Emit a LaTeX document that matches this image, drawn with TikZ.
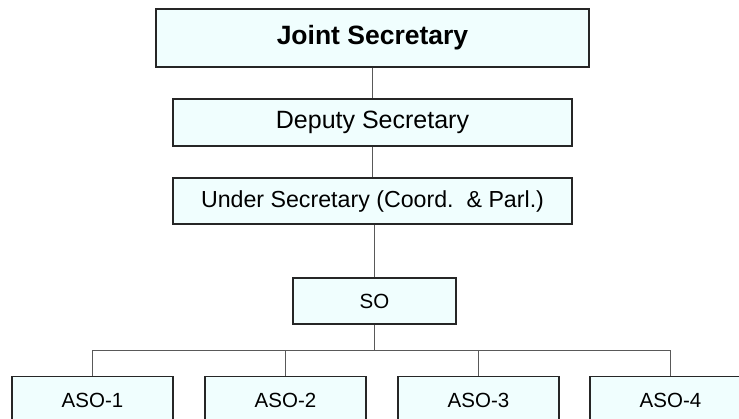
\documentclass[tikz,border=0pt]{standalone}
\usepackage{fontspec}
\setmainfont{Liberation Sans}
\definecolor{postfill}{RGB}{240,254,254}

\begin{document}
\begin{tikzpicture}[x=1pt,y=-1pt,
    post/.style={draw=black!85,line width=1.2pt,fill=postfill,inner sep=0pt,
      font=\fontsize{24}{28}\selectfont},
    small post/.style={post,minimum width=161pt,minimum height=47pt,
      font=\fontsize{20.5}{24}\selectfont},
    link/.style={draw=black!65,line width=1.1pt}]
  \useasboundingbox (0,0) rectangle (739,418);
  \clip (0,0) rectangle (739,418);

  \node[post,minimum width=433pt,minimum height=58pt,font=\fontsize{26.5}{30}\selectfont\bfseries] (js) at (372.5,38) {Joint Secretary};
  \node[post,minimum width=399pt,minimum height=47pt,font=\fontsize{25}{29}\selectfont] (ds) at (372.5,122.5) {Deputy Secretary};
  \node[post,minimum width=399pt,minimum height=46pt,font=\fontsize{23.2}{27}\selectfont] (us) at (372.5,201) {Under Secretary (Coord.\ \ \& Parl.)};
  \node[small post,minimum width=163pt,minimum height=46pt] (so) at (374.5,301) {SO};

  \node[small post] (aso1) at (92.5,400) {ASO-1};
  \node[small post] (aso2) at (285.5,400) {ASO-2};
  \node[small post] (aso3) at (478.5,400) {ASO-3};
  \node[small post] (aso4) at (670.5,400) {ASO-4};

  \coordinate (bus) at (374.5,350.5);

  \draw[link] (js) -- (ds);
  \draw[link] (ds) -- (us);
  \draw[link] (us.south -| so.north) -- (so);
  \draw[link] (so) -- (bus);
  % the four ASO posts hang off one bus
  \foreach \n in {1,...,4}
    \draw[link] (bus) -| (aso\n.north);
\end{tikzpicture}
\end{document}
